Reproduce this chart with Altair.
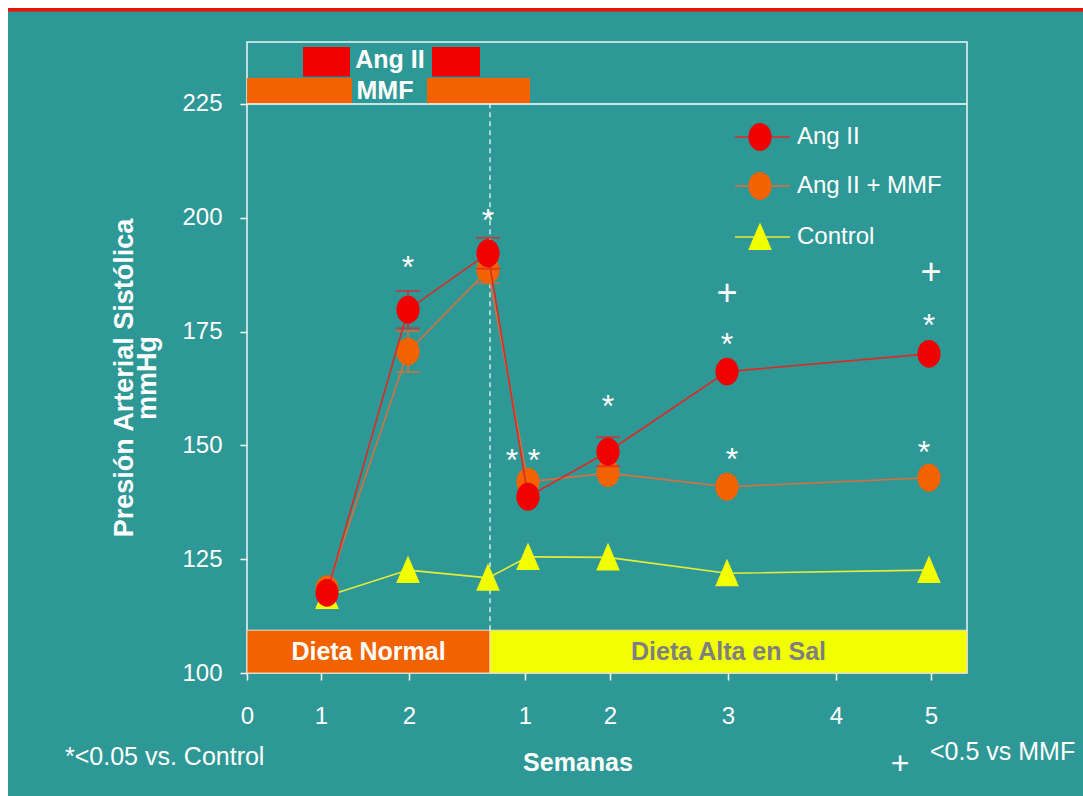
import altair as alt
import pandas as pd

# ---------------- data ----------------
SERIES = ["Ang II", "Ang II + MMF", "Control"]
# positions of the seven measurements along the (non-uniform) time axis, axis units
X_POS = [80, 161, 241, 281, 361, 480, 682]
ANG = [117.6, 179.8, 192.2, 138.7, 148.6, 166.2, 170.1]
MMF = [118.4, 170.6, 188.5, 142.0, 143.9, 140.9, 142.9]
CTRL = [116.9, 122.6, 120.9, 125.5, 125.4, 121.9, 122.6]
ANG_ERR = [0, 4.1, 3.4, 0, 3.2, 0, 0]
MMF_ERR = [0, 4.5, 2.9, 0, 0, 0, 0]

TICK_POS = [0, 74, 162, 278, 363, 481, 589, 684]
TICK_LABELS = ["0", "1", "2", "1", "2", "3", "4", "5"]
Y_TICKS = [100, 125, 150, 175, 200, 225]

STAR_X = [161, 241, 265, 287, 361, 480, 485, 682, 677]
STAR_Y = [190.7, 201.0, 148.3, 148.3, 160.2, 173.9, 148.6, 178.0, 150.1]
PLUS_X = [480, 684]
PLUS_Y = [183.5, 188.1]

DIET_LABELS = ["Dieta Normal", "Dieta Alta en Sal"]
DIET_START = [0, 243]
DIET_END = [243, 720]
DIET_TOP = 109.4
SWITCH_X = 243

ANGII_START = [56, 185]
ANGII_END = [103, 233]
MMF_START = [0, 180]
MMF_END = [105, 283]

# ---------------- style ----------------
TEAL = "#2E9896"
RED = "#F00000"
ORANGE = "#F26300"
YELLOW = "#F2FF00"
RED_LINE = "#DC2A24"
ORANGE_LINE = "#D8703C"
YELLOW_LINE = "#E4EE38"
WHITE = "#FFFFFF"
FONT = "Liberation Sans"
ELLIPSE = "M0,-1.2A1,1.2 0 1,1 0,1.2A1,1.2 0 1,1 0,-1.2Z"
TRIANGLE = "M0,-1.25L1.02,1.12L-1.02,1.12Z"
MARK_SIZE = 540

W, H = 720, 631
PAD = {"left": 247, "top": 42, "right": 116, "bottom": 123}

xs = alt.Scale(domain=[0, 720], nice=False, zero=False)
ys = alt.Scale(domain=[100, 238.6], nice=False, zero=False)

label_expr = " : ".join(
    f"datum.value == {p} ? '{l}'" for p, l in zip(TICK_POS, TICK_LABELS)
) + " : ''"

x_axis = alt.Axis(values=TICK_POS, labelExpr=label_expr, title="", grid=False,
                  domain=False, tickColor=WHITE, tickSize=7, tickWidth=1.5,
                  labelColor=WHITE, labelFontSize=24, labelFont=FONT,
                  labelPadding=24, labelFlush=False)
y_axis = alt.Axis(values=Y_TICKS, title="", grid=False, domain=False,
                  tickColor=WHITE, tickSize=7, tickWidth=1.5,
                  labelColor=WHITE, labelFontSize=24, labelFont=FONT,
                  labelPadding=18)


def X(field="x"):
    return alt.X(f"{field}:Q", scale=xs, axis=x_axis)


def Y(field="y"):
    return alt.Y(f"{field}:Q", scale=ys, axis=y_axis)


one = pd.DataFrame({"a": [0]})

# ---------------- diet bands ----------------
diet = pd.DataFrame({
    "x": DIET_START, "x2": DIET_END, "y": [100, 100], "y2": [DIET_TOP, DIET_TOP],
    "label": DIET_LABELS, "fill": [ORANGE, YELLOW], "tcol": [WHITE, "#7F7F7F"],
})
diet["xm"] = (diet["x"] + diet["x2"]) / 2
diet["ym"] = (diet["y"] + diet["y2"]) / 2
diet_rect = alt.Chart(diet).mark_rect(stroke="#F4D8C8", strokeWidth=1).encode(
    x=X(), x2="x2:Q", y=Y(), y2="y2:Q", fill=alt.Fill("fill:N", scale=None))
diet_text = alt.Chart(diet).mark_text(fontSize=25, fontWeight="bold", font=FONT,
                                      baseline="middle").encode(
    x=X("xm"), y=Y("ym"), text="label:N", color=alt.Color("tcol:N", scale=None))

# ---------------- treatment bars (top box) ----------------
treat = pd.DataFrame({
    "x": ANGII_START + MMF_START, "x2": ANGII_END + MMF_END,
    "y": [231.0, 231.0, 225.0, 225.0], "y2": [237.5, 237.5, 230.7, 230.7],
    "fill": [RED, RED, ORANGE, ORANGE],
})
treat_rect = alt.Chart(treat).mark_rect().encode(
    x=X(), x2="x2:Q", y=Y(), y2="y2:Q", fill=alt.Fill("fill:N", scale=None))
treat_lab = pd.DataFrame({"x": [143, 138], "y": [234.6, 227.8], "t": ["Ang II", "MMF"]})
treat_text = alt.Chart(treat_lab).mark_text(fontSize=25, fontWeight="bold", font=FONT,
                                            color=WHITE, baseline="middle").encode(
    x=X(), y=Y(), text="t:N")

top_rule = alt.Chart(pd.DataFrame({"y": [225]})).mark_rule(
    color=WHITE, strokeWidth=1.5).encode(y=Y())
switch_rule = alt.Chart(pd.DataFrame({"x": [SWITCH_X], "y": [DIET_TOP], "y2": [225]})).mark_rule(
    color=WHITE, strokeWidth=1.2, strokeDash=[5, 4]).encode(x=X(), y=Y(), y2="y2:Q")

# ---------------- series ----------------
def series_df(vals, errs=None):
    d = pd.DataFrame({"x": X_POS, "y": vals})
    if errs is not None:
        d["lo"] = [v - e for v, e in zip(vals, errs)]
        d["hi"] = [v + e for v, e in zip(vals, errs)]
        d = d[[e > 0 for e in errs]]
    return d


def err_layers(vals, errs, color):
    d = series_df(vals, errs)
    rule = alt.Chart(d).mark_rule(color=color, strokeWidth=1.5).encode(
        x=X(), y=Y("lo"), y2="hi:Q")
    cap_lo = alt.Chart(d).mark_tick(color=color, orient="horizontal", size=24,
                                    thickness=2).encode(x=X(), y=Y("lo"))
    cap_hi = alt.Chart(d).mark_tick(color=color, orient="horizontal", size=24,
                                    thickness=2).encode(x=X(), y=Y("hi"))
    return [rule, cap_lo, cap_hi]


def series_layers(vals, line_color, fill, shape):
    d = series_df(vals)
    line = alt.Chart(d).mark_line(color=line_color, strokeWidth=1.6).encode(x=X(), y=Y())
    pts = alt.Chart(d).mark_point(shape=shape, filled=True, fill=fill, opacity=1,
                                  size=MARK_SIZE, strokeWidth=0).encode(x=X(), y=Y())
    return [line, pts]


layers_series = (
    series_layers(CTRL, YELLOW_LINE, YELLOW, TRIANGLE)
    + err_layers(MMF, MMF_ERR, ORANGE_LINE)
    + series_layers(MMF, ORANGE_LINE, ORANGE, ELLIPSE)
    + err_layers(ANG, ANG_ERR, RED_LINE)
    + series_layers(ANG, RED_LINE, RED, ELLIPSE)
)

stars = alt.Chart(pd.DataFrame({"x": STAR_X, "y": STAR_Y})).mark_text(
    text="*", fontSize=32, font=FONT, color=WHITE, baseline="alphabetic", dy=18).encode(
    x=X(), y=Y())
pluses = alt.Chart(pd.DataFrame({"x": PLUS_X, "y": PLUS_Y})).mark_text(
    text="+", fontSize=36, font=FONT, color=WHITE,
    baseline="alphabetic", dy=12).encode(x=X(), y=Y())

# ---------------- legend (drawn by hand, pixel layout) ----------------
leg_rows = [95, 144, 195]
leg = pd.DataFrame({
    "label": SERIES, "py": leg_rows,
    "lcol": [RED_LINE, ORANGE_LINE, YELLOW_LINE], "fcol": [RED, ORANGE, YELLOW],
    "shape": [ELLIPSE, ELLIPSE, TRIANGLE],
})
leg["px0"], leg["px1"], leg["pm"], leg["pt"] = 488, 543, 513, 550
leg_line = alt.Chart(leg).mark_rule(strokeWidth=1.6).encode(
    x=alt.X("px0:Q", scale=None), x2="px1:Q", y=alt.Y("py:Q", scale=None),
    color=alt.Color("lcol:N", scale=None))
leg_pt = alt.Chart(leg).mark_point(filled=True, opacity=1, size=MARK_SIZE, strokeWidth=0).encode(
    x=alt.X("pm:Q", scale=None), y=alt.Y("py:Q", scale=None),
    fill=alt.Fill("fcol:N", scale=None), shape=alt.Shape("shape:N", scale=None))
leg_txt = alt.Chart(leg).mark_text(align="left", baseline="middle", fontSize=24,
                                   font=FONT, color=WHITE).encode(
    x=alt.X("pt:Q", scale=None), y=alt.Y("py:Q", scale=None), text="label:N")

# ---------------- surrounding texts (pixel layout) ----------------
def ptext(txt, px, py, size=24, weight="normal", align="center", angle=0, baseline="middle"):
    kw = dict(text=txt, fontSize=size, fontWeight=weight, font=FONT, color=WHITE,
              align=align, baseline=baseline)
    if angle:
        kw["angle"] = angle
    return alt.Chart(one).mark_text(**kw).encode(x=alt.value(px), y=alt.value(py))


texts = [
    ptext("Presión Arterial Sistólica", -122, 336, size=27, weight="bold", angle=270),
    ptext("mmHg", -99, 336, size=27, weight="bold", angle=270),
    ptext("Semanas", 331, 721, size=25, weight="bold"),
    ptext("*<0.05 vs. Control", -182, 715, size=25, align="left"),
    ptext("+", 653, 722, size=32),
    ptext("<0.5 vs MMF", 683, 710, size=25, align="left"),
]

# ---------------- page frame: white margins and red line ----------------
def prect(x0, x1, y0, y1, color):
    return alt.Chart(one).mark_rect(color=color).encode(
        x=alt.value(x0), x2=alt.value(x1), y=alt.value(y0), y2=alt.value(y1))


frame = [
    prect(-247, 836, -42, -34, WHITE),
    prect(-247, -239, -42, 754, WHITE),
    prect(-239, 836, -34, -30.5, "#EE1100"),
]

chart = alt.layer(
    *frame, diet_rect, diet_text, treat_rect, treat_text, top_rule, switch_rule,
    *layers_series, stars, pluses, leg_line, leg_pt, leg_txt, *texts,
).properties(
    width=W, height=H, padding=PAD, autosize=alt.AutoSizeParams(type="none"),
).configure(background=TEAL, font=FONT).configure_view(
    stroke="#EAF6F6", strokeWidth=1.5)

chart.save("out.html", embed_options={"renderer": "svg", "actions": False})
